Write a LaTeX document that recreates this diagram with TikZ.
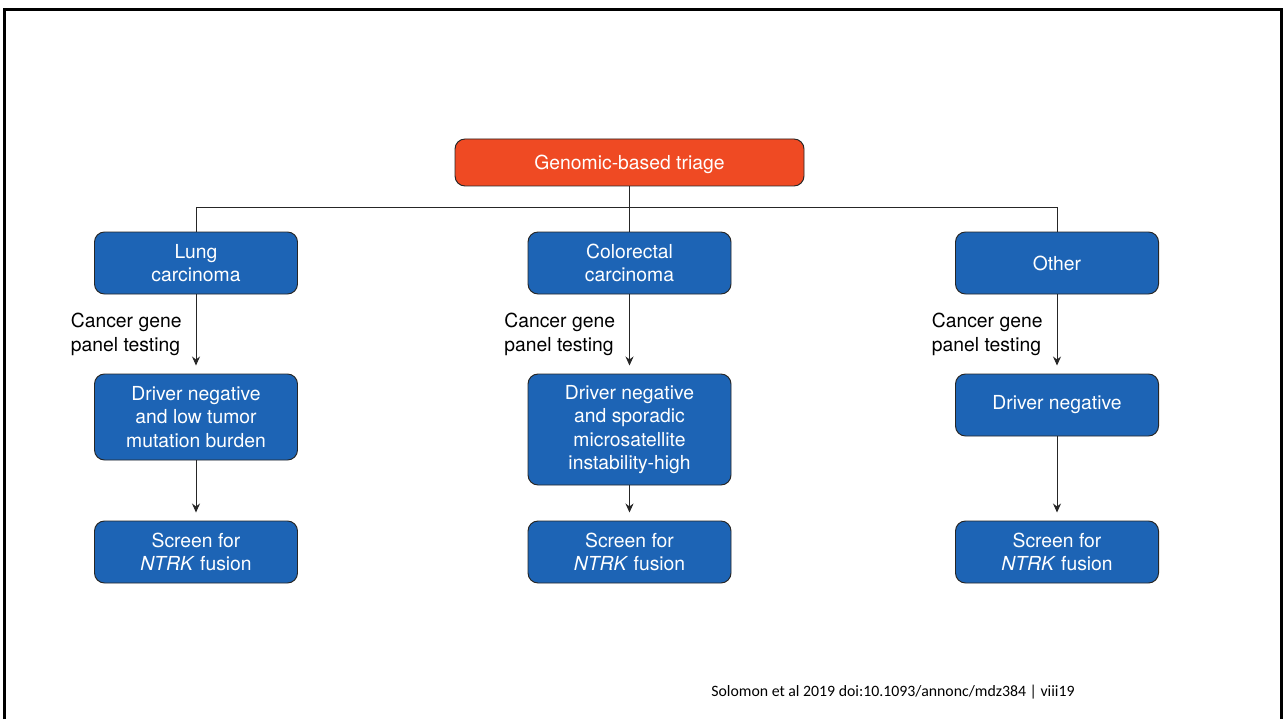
\documentclass[tikz,border=0pt]{standalone}
\usepackage{fontspec}
\setmainfont{TeX Gyre Heros}
\newfontfamily\citefont{Carlito}
\usetikzlibrary{shapes.geometric, arrows.meta}
\definecolor{triageorange}{HTML}{EF4A23}
\definecolor{boxblue}{HTML}{1D64B5}
\tikzstyle{triage} = [rectangle, rounded corners=.2cm, minimum width=6.98cm, minimum height=.94cm, text centered, draw=black!85, fill=triageorange, text=white, inner sep=0, text height=1em, text depth=.22em]
\tikzstyle{process} = [rectangle, rounded corners=.2cm, minimum width=4.06cm, minimum height=1.24cm, align=center, draw=black!85, fill=boxblue, text=white, inner sep=0]
\tikzstyle{arrow} = [draw=black!85, -{Stealth[length=.18cm, width=.16cm]}, shorten >=.16cm]
\tikzstyle{testing} = [anchor=east, align=left, inner sep=0, xshift=-.28cm, yshift=-.01cm]

\begin{document}
\begin{tikzpicture}[node distance=2.01cm, font=\fontsize{11}{13.3}\selectfont, line width=.55pt]
\useasboundingbox (0,0) rectangle (25.7,-14.38);
\draw [line width=.06cm] (.09,-14.38) -- (.09,-.19) -- (25.63,-.19) -- (25.63,-14.38);

\node (triage) [triage] at (12.59,-3.25) {Genomic-based triage};

\node (colorectal) [process, below of=triage] {Colorectal\\carcinoma};
\node (lung) [process, left of=colorectal, xshift=-6.66cm] {Lung\\carcinoma};
\node (other) [process, right of=colorectal, xshift=6.54cm] {Other};
\draw [draw=black!85] (triage) -- (colorectal);
\draw [draw=black!85] (lung.north) -- ++(0,.48) -| (other.north);

\node (drvLung) [process, below of=lung, yshift=-1.07cm, minimum height=1.72cm] {Driver negative\\and low tumor\\mutation burden};
\draw [arrow] (lung) -- node [testing] {Cancer gene\\panel testing} (drvLung);
\node (screenLung) [process, below of=drvLung, yshift=-.69cm] {Screen for\\\textit{NTRK} fusion};
\draw [arrow] (drvLung) -- (screenLung);

\node (drvColo) [process, below of=colorectal, yshift=-1.32cm, minimum height=2.22cm] {Driver negative\\and sporadic\\microsatellite\\instability-high};
\draw [arrow] (colorectal) -- node [testing] {Cancer gene\\panel testing} (drvColo);
\node (screenColo) [process, below of=drvColo, yshift=-.44cm] {Screen for\\\textit{NTRK} fusion};
\draw [arrow] (drvColo) -- (screenColo);

\node (drvOther) [process, below of=other, yshift=-.83cm] {Driver negative};
\draw [arrow] (other) -- node [testing] {Cancer gene\\panel testing} (drvOther);
\node (screenOther) [process, below of=drvOther, yshift=-.93cm] {Screen for\\\textit{NTRK} fusion};
\draw [arrow] (drvOther) -- (screenOther);

\node (cite) [anchor=west, font=\citefont\fontsize{9}{11}\selectfont] at (14.1,-13.84) {Solomon et al 2019 doi:10.1093/annonc/mdz384 | viii19};

\end{tikzpicture}
\end{document}
